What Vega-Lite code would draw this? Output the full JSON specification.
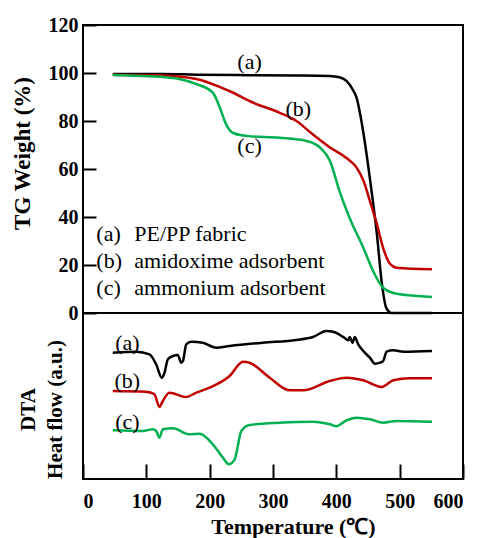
{
  "$schema": "https://vega.github.io/schema/vega-lite/v6.json",
  "background": "white",
  "padding": {"left": 10, "top": 14, "right": 5, "bottom": 5},
  "spacing": 0,
  "bounds": "flush",
  "datasets": {
    "tg": [
      {"T": 47, "W": 99.6, "s": "a"}, {"T": 126, "W": 99.6, "s": "a"}, {"T": 179, "W": 99.3, "s": "a"}, {"T": 260, "W": 99.1, "s": "a"}, {"T": 337, "W": 99.0, "s": "a"}, {"T": 389, "W": 98.8, "s": "a"}, {"T": 405, "W": 98.2, "s": "a"}, {"T": 416, "W": 96.7, "s": "a"}, {"T": 425, "W": 93.5, "s": "a"}, {"T": 432, "W": 89.6, "s": "a"}, {"T": 443, "W": 74.6, "s": "a"}, {"T": 453, "W": 56, "s": "a"}, {"T": 464, "W": 33, "s": "a"}, {"T": 472, "W": 12, "s": "a"}, {"T": 479, "W": 2, "s": "a"}, {"T": 487, "W": 0, "s": "a"}, {"T": 551, "W": 0, "s": "a"},
      {"T": 47, "W": 99.3, "s": "b"}, {"T": 126, "W": 99.0, "s": "b"}, {"T": 179, "W": 97.5, "s": "b"}, {"T": 231, "W": 92.5, "s": "b"}, {"T": 269, "W": 87.6, "s": "b"}, {"T": 310, "W": 83.5, "s": "b"}, {"T": 337, "W": 80, "s": "b"}, {"T": 363, "W": 74.4, "s": "b"}, {"T": 390, "W": 69, "s": "b"}, {"T": 416, "W": 64.6, "s": "b"}, {"T": 432, "W": 60.6, "s": "b"}, {"T": 443, "W": 55, "s": "b"}, {"T": 453, "W": 46.7, "s": "b"}, {"T": 464, "W": 37, "s": "b"}, {"T": 474, "W": 27, "s": "b"}, {"T": 485, "W": 20.4, "s": "b"}, {"T": 495, "W": 18.9, "s": "b"}, {"T": 551, "W": 18.2, "s": "b"},
      {"T": 47, "W": 99.2, "s": "c"}, {"T": 126, "W": 98.3, "s": "c"}, {"T": 152, "W": 97.5, "s": "c"}, {"T": 179, "W": 95.4, "s": "c"}, {"T": 205, "W": 91.8, "s": "c"}, {"T": 216, "W": 85.6, "s": "c"}, {"T": 226, "W": 78.6, "s": "c"}, {"T": 237, "W": 75, "s": "c"}, {"T": 258, "W": 73.8, "s": "c"}, {"T": 310, "W": 73, "s": "c"}, {"T": 353, "W": 71.7, "s": "c"}, {"T": 374, "W": 69, "s": "c"}, {"T": 390, "W": 63.3, "s": "c"}, {"T": 405, "W": 50.8, "s": "c"}, {"T": 421, "W": 39.6, "s": "c"}, {"T": 443, "W": 27, "s": "c"}, {"T": 458, "W": 17.5, "s": "c"}, {"T": 474, "W": 10.5, "s": "c"}, {"T": 495, "W": 8, "s": "c"}, {"T": 551, "W": 6.7, "s": "c"}
    ],
    "dta": [
      {"T": 47, "H": 126.3, "s": "a"}, {"T": 84, "H": 127.3, "s": "a"}, {"T": 105, "H": 124.7, "s": "a"}, {"T": 115.5, "H": 114.7, "s": "a"}, {"T": 124.5, "H": 101.3, "s": "a"}, {"T": 128.7, "H": 106.3, "s": "a"}, {"T": 134, "H": 119.7, "s": "a"}, {"T": 142, "H": 123, "s": "a"}, {"T": 149.8, "H": 124, "s": "a"}, {"T": 155, "H": 116.3, "s": "a"}, {"T": 157.8, "H": 118, "s": "a"}, {"T": 163, "H": 134.7, "s": "a"}, {"T": 171, "H": 137.3, "s": "a"}, {"T": 189, "H": 136.3, "s": "a"}, {"T": 210, "H": 131.3, "s": "a"}, {"T": 231.5, "H": 133, "s": "a"}, {"T": 284, "H": 136.3, "s": "a"}, {"T": 337, "H": 139, "s": "a"}, {"T": 363, "H": 142, "s": "a"}, {"T": 384.5, "H": 148, "s": "a"}, {"T": 395, "H": 147.3, "s": "a"}, {"T": 411, "H": 142, "s": "a"}, {"T": 419, "H": 138.7, "s": "a"}, {"T": 421, "H": 142, "s": "a"}, {"T": 425.6, "H": 136.3, "s": "a"}, {"T": 429, "H": 142, "s": "a"}, {"T": 434.6, "H": 134.7, "s": "a"}, {"T": 442.5, "H": 128, "s": "a"}, {"T": 453, "H": 121.3, "s": "a"}, {"T": 461, "H": 115.3, "s": "a"}, {"T": 469, "H": 116.3, "s": "a"}, {"T": 474, "H": 118, "s": "a"}, {"T": 479.4, "H": 127.3, "s": "a"}, {"T": 490, "H": 128.7, "s": "a"}, {"T": 506, "H": 127.3, "s": "a"}, {"T": 551, "H": 128, "s": "a"},
      {"T": 47, "H": 88, "s": "b"}, {"T": 99.7, "H": 87.3, "s": "b"}, {"T": 112.8, "H": 84.7, "s": "b"}, {"T": 120.7, "H": 72, "s": "b"}, {"T": 126, "H": 78, "s": "b"}, {"T": 136.5, "H": 86.3, "s": "b"}, {"T": 163, "H": 82, "s": "b"}, {"T": 178.8, "H": 86.3, "s": "b"}, {"T": 200, "H": 91.3, "s": "b"}, {"T": 231.5, "H": 103, "s": "b"}, {"T": 252.7, "H": 117.3, "s": "b"}, {"T": 263, "H": 116.3, "s": "b"}, {"T": 294.8, "H": 101.3, "s": "b"}, {"T": 326.5, "H": 88.7, "s": "b"}, {"T": 347.6, "H": 88.7, "s": "b"}, {"T": 389.7, "H": 98, "s": "b"}, {"T": 416, "H": 101.3, "s": "b"}, {"T": 442.5, "H": 98.7, "s": "b"}, {"T": 471.5, "H": 92, "s": "b"}, {"T": 490, "H": 98.7, "s": "b"}, {"T": 516, "H": 100.7, "s": "b"}, {"T": 551, "H": 100.7, "s": "b"},
      {"T": 47, "H": 48.7, "s": "c"}, {"T": 94.4, "H": 48, "s": "c"}, {"T": 110, "H": 49.7, "s": "c"}, {"T": 115.5, "H": 48, "s": "c"}, {"T": 120.7, "H": 41.3, "s": "c"}, {"T": 126, "H": 49.7, "s": "c"}, {"T": 142, "H": 50.7, "s": "c"}, {"T": 168, "H": 44.7, "s": "c"}, {"T": 184, "H": 45.3, "s": "c"}, {"T": 205, "H": 34.7, "s": "c"}, {"T": 221, "H": 21.3, "s": "c"}, {"T": 230, "H": 14.7, "s": "c"}, {"T": 239.5, "H": 19.7, "s": "c"}, {"T": 250, "H": 48, "s": "c"}, {"T": 263, "H": 54, "s": "c"}, {"T": 310.6, "H": 56.3, "s": "c"}, {"T": 363, "H": 57.3, "s": "c"}, {"T": 389.7, "H": 54.7, "s": "c"}, {"T": 400, "H": 52.7, "s": "c"}, {"T": 416, "H": 58.7, "s": "c"}, {"T": 432, "H": 61.3, "s": "c"}, {"T": 453, "H": 59.7, "s": "c"}, {"T": 474, "H": 56.3, "s": "c"}, {"T": 495, "H": 58, "s": "c"}, {"T": 551, "H": 57.3, "s": "c"}
    ],
    "one": [{}]
  },
  "vconcat": [
    {
      "width": 380,
      "height": 288,
      "layer": [
        {
          "data": {"name": "tg"},
          "mark": {"type": "line", "strokeWidth": 2.5, "interpolate": "monotone"},
          "encoding": {
            "x": {"field": "T", "type": "quantitative", "scale": {"domain": [0, 600], "nice": false}, "axis": null},
            "y": {"field": "W", "type": "quantitative", "scale": {"domain": [0, 120], "nice": false},
              "axis": {"values": [0, 20, 40, 60, 80, 100, 120], "tickSize": -13, "labelPadding": 18, "title": "TG Weight (%)", "titleFontSize": 23, "titlePadding": 14, "titleY": 128}},
            "color": {"field": "s", "type": "nominal", "scale": {"domain": ["a", "b", "c"], "range": ["#000000", "#c00000", "#00b050"]}, "legend": null}
          }
        },
        {
          "data": {"name": "one"},
          "mark": {"type": "text", "fontSize": 22, "font": "Liberation Serif", "align": "center", "baseline": "middle", "color": "#000"},
          "encoding": {"x": {"datum": 263, "type": "quantitative"}, "y": {"datum": 104.6, "type": "quantitative"}, "text": {"value": "(a)"}}
        },
        {
          "data": {"name": "one"},
          "mark": {"type": "text", "fontSize": 22, "font": "Liberation Serif", "align": "center", "baseline": "middle", "color": "#000"},
          "encoding": {"x": {"datum": 340, "type": "quantitative"}, "y": {"datum": 85, "type": "quantitative"}, "text": {"value": "(b)"}}
        },
        {
          "data": {"name": "one"},
          "mark": {"type": "text", "fontSize": 22, "font": "Liberation Serif", "align": "center", "baseline": "middle", "color": "#000"},
          "encoding": {"x": {"datum": 263, "type": "quantitative"}, "y": {"datum": 69.6, "type": "quantitative"}, "text": {"value": "(c)"}}
        },
        {
          "data": {"name": "one"},
          "mark": {"type": "text", "fontSize": 22, "font": "Liberation Serif", "align": "left", "baseline": "middle", "lineHeight": 27, "color": "#000"},
          "encoding": {"x": {"datum": 21, "type": "quantitative"}, "y": {"datum": 33, "type": "quantitative"}, "text": {"value": ["(a)", "(b)", "(c)"]}}
        },
        {
          "data": {"name": "one"},
          "mark": {"type": "text", "fontSize": 22, "font": "Liberation Serif", "align": "left", "baseline": "middle", "lineHeight": 27, "color": "#000"},
          "encoding": {"x": {"datum": 81, "type": "quantitative"}, "y": {"datum": 33, "type": "quantitative"}, "text": {"value": ["PE/PP fabric", "amidoxime adsorbent", "ammonium adsorbent"]}}
        }
      ]
    },
    {
      "width": 380,
      "height": 166,
      "layer": [
        {
          "data": {"name": "dta"},
          "mark": {"type": "line", "strokeWidth": 2.5, "interpolate": "monotone"},
          "encoding": {
            "x": {"field": "T", "type": "quantitative", "scale": {"domain": [0, 600], "nice": false},
              "axis": {"values": [0, 100, 200, 300, 400, 500, 600], "tickSize": -15, "labelPadding": 27, "title": "Temperature (℃)", "titleFontSize": 22, "titlePadding": 5, "titleX": 210}},
            "y": {"field": "H", "type": "quantitative", "scale": {"domain": [0, 166], "nice": false},
              "axis": {"ticks": false, "labels": false, "title": ["DTA", "Heat flow (a.u.)"], "titleFontSize": 21, "titleLineHeight": 27, "titlePadding": 18, "titleY": 96}},
            "color": {"field": "s", "type": "nominal", "scale": {"domain": ["a", "b", "c"], "range": ["#000000", "#c00000", "#00b050"]}, "legend": null}
          }
        },
        {
          "data": {"name": "one"},
          "mark": {"type": "text", "fontSize": 22, "font": "Liberation Serif", "align": "center", "baseline": "middle", "color": "#000"},
          "encoding": {"x": {"datum": 70, "type": "quantitative"}, "y": {"datum": 136, "type": "quantitative"}, "text": {"value": "(a)"}}
        },
        {
          "data": {"name": "one"},
          "mark": {"type": "text", "fontSize": 22, "font": "Liberation Serif", "align": "center", "baseline": "middle", "color": "#000"},
          "encoding": {"x": {"datum": 70, "type": "quantitative"}, "y": {"datum": 98, "type": "quantitative"}, "text": {"value": "(b)"}}
        },
        {
          "data": {"name": "one"},
          "mark": {"type": "text", "fontSize": 22, "font": "Liberation Serif", "align": "center", "baseline": "middle", "color": "#000"},
          "encoding": {"x": {"datum": 70, "type": "quantitative"}, "y": {"datum": 57, "type": "quantitative"}, "text": {"value": "(c)"}}
        }
      ]
    }
  ],
  "config": {
    "view": {"stroke": "#000", "strokeWidth": 2},
    "font": "Liberation Serif",
    "axis": {
      "labelFont": "Liberation Serif", "labelFontWeight": "bold", "labelFontSize": 20, "labelColor": "#000",
      "titleFont": "Liberation Serif", "titleFontWeight": "bold", "titleFontSize": 20, "titleColor": "#000",
      "domain": false, "grid": false, "tickColor": "#000", "tickWidth": 2
    }
  }
}
